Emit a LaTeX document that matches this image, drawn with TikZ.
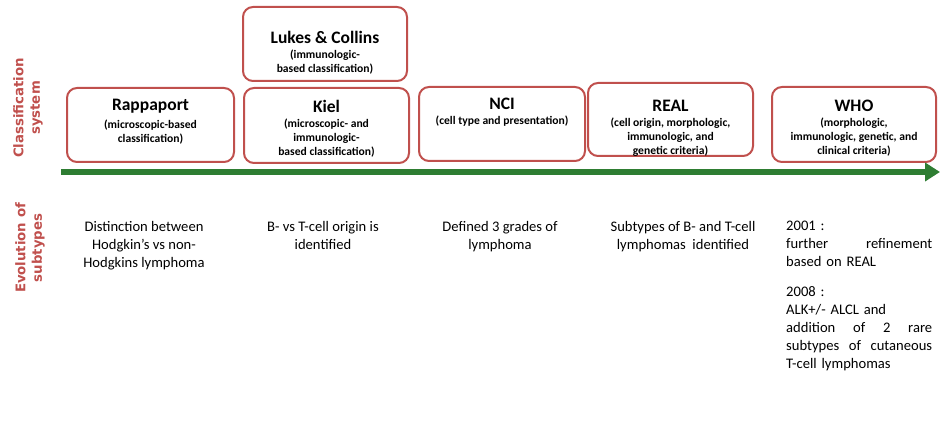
\documentclass[tikz,border=0pt]{standalone}
\usepackage{fontspec}
\setmainfont{Carlito}
\newfontfamily\sidefont{DejaVu Sans}
\usepackage{xcolor}
\usetikzlibrary{arrows.meta,positioning}
\definecolor{boxred}{HTML}{C0504D}
\definecolor{linegreen}{HTML}{2E7D32}
\tikzset{
	erabox/.style={
			draw=boxred, line width=2pt, rounded corners=10pt, fill=white
		},
	eratitle/.style={
			inner sep=0pt, font=\fontsize{17.5}{20}\selectfont\bfseries
		},
	erasub/.style={
			inner sep=0pt, align=center, font=\fontsize{11.6}{14}\selectfont\bfseries
		},
	sidelabel/.style={
			rotate=90, align=center, text=boxred, inner sep=0pt,
			font=\fontsize{13.3}{16.5}\selectfont\sidefont\bfseries
		},
	note/.style={
			anchor=north, align=center, inner sep=0pt, font=\fontsize{14.6}{18}\selectfont
		},
	timeline/.style={
			draw=linegreen, line width=6pt, -{Triangle[length=15pt,width=18pt]}
		}
}

\begin{document}
\begin{tikzpicture}[x=1pt,y=-1pt]
		\useasboundingbox (0,0) rectangle (940,430);

		% Side labels
		\node[sidelabel] (cls) at (28,108) {Classification\\system};
		\node[sidelabel] (evo) at (30,248) {Evolution of\\subtypes};

		% Classification boxes
		\node[erabox, minimum width=167pt, minimum height=74pt] (rap) at (150.5,125) {};
		\node[erabox, minimum width=165pt, minimum height=75pt] (kiel) at (326.5,125.5) {};
		\node[erabox, minimum width=164pt, minimum height=74pt] (lukes) at (325,44) {};
		\node[erabox, minimum width=166pt, minimum height=74pt] (nci) at (502,124) {};
		\node[erabox, minimum width=165pt, minimum height=73pt] (real) at (670.5,119.5) {};
		\node[erabox, minimum width=164pt, minimum height=75pt] (who) at (854,124.5) {};

		% Titles
		\node[eratitle] (rap-t) at (150.5,106) {Rappaport};
		\node[eratitle] (kiel-t) at (326.5,106) {Kiel};
		\node[eratitle] (lukes-t) at (325,37) {Lukes \& Collins};
		\node[eratitle] (nci-t) at (502,104) {NCI};
		\node[eratitle] (real-t) at (670.5,106) {REAL};
		\node[eratitle] (who-t) at (854,106) {WHO};

		% Subtitles
		\node[erasub, below=6pt of rap-t] (rap-s) {(microscopic-based\\classification)};
		\node[erasub, below=6pt of kiel-t] (kiel-s) {(microscopic- and\\immunologic-\\based classification)};
		\node[erasub, below=6pt of lukes-t] (lukes-s) {(immunologic-\\based classification)};
		\node[erasub, below=6pt of nci-t] (nci-s) {(cell type and presentation)};
		\node[erasub, below=6pt of real-t] (real-s) {(cell origin, morphologic,\\immunologic, and\\genetic criteria)};
		\node[erasub, below=6pt of who-t] (who-s) {(morphologic,\\immunologic, genetic, and\\clinical criteria)};

		% Time line
		\coordinate (tl-start) at (61,172);
		\coordinate (tl-end) at (940,172);
		\draw[timeline] (tl-start) -- (tl-end);

		% Evolution of subtypes
		\node[note] (rap-n) at (144,221) {Distinction between\\Hodgkin’s vs non-\\Hodgkins lymphoma};
		\node[note] (kiel-n) at (323,221) {B- vs T-cell origin is\\identified};
		\node[note] (nci-n) at (500,221) {Defined 3 grades of\\lymphoma};
		\node[note] (real-n) at (683,221) {Subtypes of B- and T-cell\\lymphomas\ \ identified};
		\node[note, anchor=north west, align=left, text width=146pt] (who-n) at (786,221)
			{2001 :\\further\hfill refinement\\based on REAL\\[12pt]2008 :\\ALK+/- ALCL and\\addition\hfill of\hfill 2\hfill rare\\subtypes\hfill of\hfill cutaneous\\T-cell lymphomas};
	\end{tikzpicture}
\end{document}
